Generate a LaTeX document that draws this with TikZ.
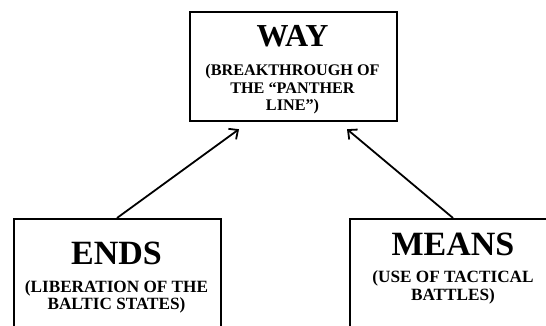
\documentclass[tikz,border=0pt]{standalone}
\usepackage{fontspec}
\setmainfont{Liberation Serif}
\usetikzlibrary{arrows.meta}
\begin{document}
\begin{tikzpicture}[x=1pt,y=1pt,
  box/.style={draw, line width=2.2pt, minimum width=207pt, anchor=north west, inner sep=0pt},
  title/.style={font=\fontsize{32}{36}\selectfont\bfseries, anchor=base, inner sep=0pt},
  bigtitle/.style={font=\fontsize{34}{38}\selectfont\bfseries, anchor=base, inner sep=0pt},
  sub/.style={font=\fontsize{16.2}{18}\selectfont\bfseries, anchor=base, inner sep=0pt},
  bigsub/.style={font=\fontsize{17.2}{19}\selectfont\bfseries, anchor=base, inner sep=0pt},
  conn/.style={line width=1.8pt, -{Straight Barb[length=7pt,width=13pt,line width=1.8pt]}}]
\useasboundingbox (0,0) rectangle (546,-326);
\clip (0,0) rectangle (546,-326);
\fill[white] (0,0) rectangle (546,-326);
% boxes
\node[box, minimum height=109pt] (way) at (189,-11) {};
\node[box, minimum height=130pt] (ends) at (13,-218) {};
\node[box, minimum height=130pt] (means) at (349,-218) {};
% texts
\node[title] (wayt) at (292.5,-47) {WAY};
\node[sub] (way1) at (292.5,-76) {(BREAKTHROUGH OF};
\node[sub] (way2) at (292.5,-93.5) {THE “PANTHER};
\node[sub] (way3) at (292.5,-111) {LINE”)};
\node[bigtitle] (endst) at (116.5,-264) {ENDS};
\node[bigsub] (ends1) at (116.5,-292) {(LIBERATION OF THE};
\node[bigsub] (ends2) at (116.5,-309.5) {BALTIC STATES)};
\node[bigtitle] (meanst) at (453,-255) {MEANS};
\node[bigsub] (means1) at (453,-282) {(USE OF TACTICAL};
\node[bigsub] (means2) at (453,-300) {BATTLES)};
% connectors
\draw[conn] ([xshift=104pt]ends.north west) -- ([xshift=50pt,yshift=-7pt]way.south west);
\draw[conn] ([xshift=104pt]means.north west) -- ([xshift=158pt,yshift=-7pt]way.south west);
\end{tikzpicture}
\end{document}
